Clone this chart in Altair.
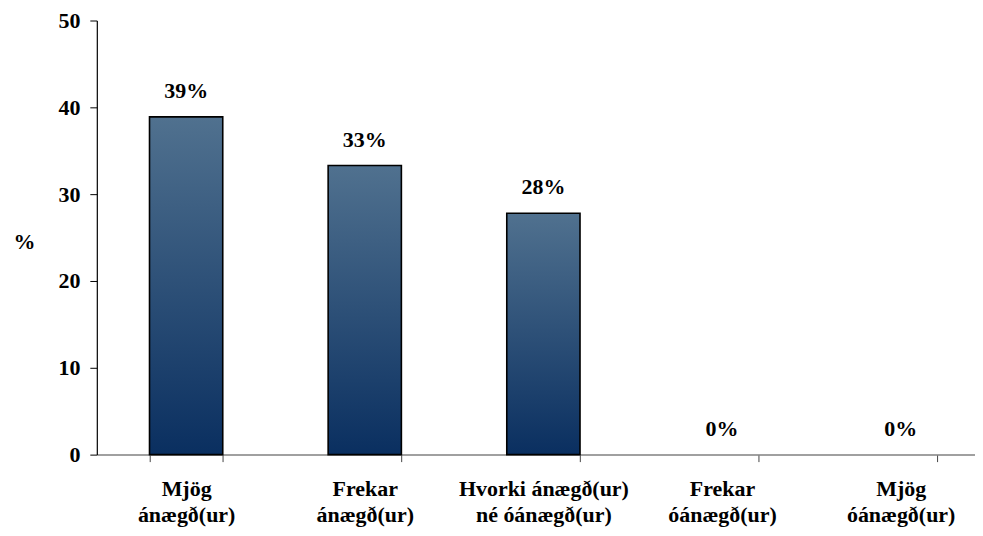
import altair as alt
import pandas as pd

categories = ["Mjög|ánægð(ur)", "Frekar|ánægð(ur)", "Hvorki ánægð(ur)|né óánægð(ur)",
              "Frekar|óánægð(ur)", "Mjög|óánægð(ur)"]
values = [38.9, 33.3, 27.8, 0, 0]
labels = ["39%", "33%", "28%", "0%", "0%"]
y_ticks = [0, 10, 20, 30, 40, 50]

df = pd.DataFrame({"cat": categories, "value": values, "label": labels})

FONT = "Liberation Serif"
FS = 22

x_enc = alt.X(
    "cat:N", sort=categories, title=None,
    scale=alt.Scale(paddingInner=0.59, paddingOuter=0.295, range=[0, 895]),
    axis=alt.Axis(
        labelExpr="split(datum.label, '|')", labelAngle=0, labelFont=FONT,
        labelFontSize=FS, labelFontWeight="bold", labelColor="black",
        labelLineHeight=26, labelPadding=17, labelLimit=400,
        tickBand="extent", tickSize=7, tickColor="#444444",
        domainColor="#808080", domainWidth=1.5,
    ),
)
y_enc = alt.Y(
    "value:Q",
    scale=alt.Scale(domain=[0, 50], nice=False),
    axis=alt.Axis(
        values=y_ticks, grid=False, title="%", titleAngle=0, titleFont=FONT,
        titleFontSize=FS, titleFontWeight="bold", titleColor="black",
        titleX=-73, titleY=221, titleAlign="center", titleBaseline="middle",
        labelFont=FONT, labelFontSize=FS, labelFontWeight="bold",
        labelColor="black", labelPadding=10, tickSize=7, tickColor="black",
        domainColor="black", domainWidth=1.2,
    ),
)

grad = alt.Gradient(
    gradient="linear",
    stops=[alt.GradientStop(color="#50718f", offset=0),
           alt.GradientStop(color="#0a2f60", offset=1)],
    x1=0, x2=0, y1=0, y2=1,
)

bars = alt.Chart(df).transform_filter("datum.value > 0").mark_bar(
    color=grad, stroke="black", strokeWidth=1.6
).encode(x=x_enc, y=y_enc)

text = alt.Chart(df).mark_text(
    baseline="bottom", dy=-14, font=FONT, fontSize=FS, fontWeight="bold", color="black"
).encode(x=alt.X("cat:N", sort=categories), y="value:Q", text="label:N")

chart = (bars + text).properties(
    width=880, height=435,
    autosize=alt.AutoSizeParams(type="none"),
    padding={"left": 89, "top": 12, "right": 0, "bottom": 73},
).configure_view(stroke=None)

chart.save("out.html", embed_options={"renderer": "svg", "actions": False})
